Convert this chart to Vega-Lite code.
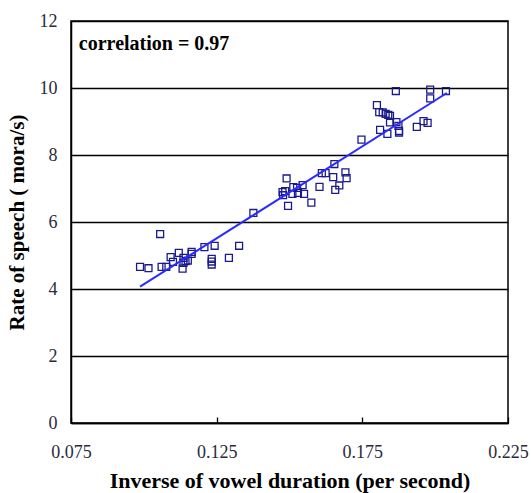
{
  "$schema": "https://vega.github.io/schema/vega-lite/v6.json",
  "autosize": {"type": "none"},
  "padding": {"left": 71, "top": 21, "right": 23, "bottom": 70},
  "width": 437,
  "height": 402,
  "background": "white",
  "config": {
    "view": {"stroke": "black", "strokeWidth": 1.5},
    "font": "Liberation Serif"
  },
  "datasets": {
    "points": [
      {"x": 0.0987, "y": 4.66}, {"x": 0.1016, "y": 4.62}, {"x": 0.1056, "y": 5.64}, {"x": 0.1061, "y": 4.66},
      {"x": 0.1077, "y": 4.66}, {"x": 0.1092, "y": 4.95}, {"x": 0.1100, "y": 4.81}, {"x": 0.1120, "y": 5.08},
      {"x": 0.1133, "y": 4.61}, {"x": 0.1136, "y": 4.93}, {"x": 0.1136, "y": 4.78}, {"x": 0.1143, "y": 4.83},
      {"x": 0.1151, "y": 4.85}, {"x": 0.1164, "y": 5.11}, {"x": 0.1164, "y": 5.05}, {"x": 0.1208, "y": 5.25},
      {"x": 0.1243, "y": 5.29}, {"x": 0.1233, "y": 4.90}, {"x": 0.1233, "y": 4.82}, {"x": 0.1233, "y": 4.73},
      {"x": 0.1292, "y": 4.93}, {"x": 0.1327, "y": 5.29}, {"x": 0.1376, "y": 6.27}, {"x": 0.1490, "y": 7.30},
      {"x": 0.1476, "y": 6.89}, {"x": 0.1485, "y": 6.92}, {"x": 0.1478, "y": 6.80}, {"x": 0.1495, "y": 6.48},
      {"x": 0.1513, "y": 7.04}, {"x": 0.1510, "y": 6.84}, {"x": 0.1529, "y": 6.87}, {"x": 0.1526, "y": 7.02},
      {"x": 0.1545, "y": 7.10}, {"x": 0.1550, "y": 6.84}, {"x": 0.1575, "y": 6.58}, {"x": 0.1603, "y": 7.05},
      {"x": 0.1611, "y": 7.46}, {"x": 0.1624, "y": 7.46}, {"x": 0.1650, "y": 7.34}, {"x": 0.1654, "y": 7.73},
      {"x": 0.1657, "y": 6.96}, {"x": 0.1671, "y": 7.09}, {"x": 0.1692, "y": 7.48}, {"x": 0.1696, "y": 7.31},
      {"x": 0.1747, "y": 8.46}, {"x": 0.1800, "y": 9.49}, {"x": 0.1811, "y": 8.75}, {"x": 0.1808, "y": 9.28},
      {"x": 0.1820, "y": 9.27}, {"x": 0.1830, "y": 9.23}, {"x": 0.1839, "y": 9.20}, {"x": 0.1845, "y": 9.17},
      {"x": 0.1836, "y": 8.63}, {"x": 0.1845, "y": 8.97}, {"x": 0.1865, "y": 9.91}, {"x": 0.1867, "y": 8.98},
      {"x": 0.1874, "y": 8.87}, {"x": 0.1876, "y": 8.72}, {"x": 0.1876, "y": 8.67}, {"x": 0.1937, "y": 8.84},
      {"x": 0.1960, "y": 9.01}, {"x": 0.1974, "y": 8.96}, {"x": 0.1983, "y": 9.95}, {"x": 0.1983, "y": 9.69},
      {"x": 0.2037, "y": 9.91}
    ],
    "fit": [
      {"x": 0.0987, "y": 4.07},
      {"x": 0.2040, "y": 9.85}
    ]
  },
  "layer": [
    {
      "data": {"name": "points"},
      "mark": {"type": "point", "shape": "square", "filled": false, "color": "#1a1a8c", "size": 48, "strokeWidth": 1.3, "opacity": 1},
      "encoding": {
        "x": {
          "field": "x", "type": "quantitative",
          "scale": {"domain": [0.075, 0.225], "nice": false, "zero": false},
          "axis": {
            "values": [0.075, 0.125, 0.175, 0.225],
            "format": ".3f",
            "title": "Inverse of vowel duration (per second)",
            "titleFont": "Liberation Serif", "titleFontSize": 22, "titleFontWeight": "bold", "titleColor": "black",
            "titlePadding": 9,
            "labelFont": "Liberation Serif", "labelFontSize": 18, "labelColor": "#2a2a3a",
            "labelPadding": 26, "labelFlush": false,
            "grid": false,
            "domainColor": "black", "domainWidth": 1.5,
            "ticks": true, "tickSize": -6, "tickColor": "black", "tickWidth": 1.3
          }
        },
        "y": {
          "field": "y", "type": "quantitative",
          "scale": {"domain": [0, 12], "nice": false},
          "axis": {
            "values": [0, 2, 4, 6, 8, 10, 12],
            "title": "Rate of speech ( mora/s)",
            "titleFont": "Liberation Serif", "titleFontSize": 21, "titleFontWeight": "bold", "titleColor": "black",
            "titlePadding": 12,
            "labelFont": "Liberation Serif", "labelFontSize": 18, "labelColor": "#2a2a3a",
            "labelPadding": 14,
            "grid": true, "gridColor": "black", "gridWidth": 1.5, "gridOpacity": 1,
            "domainColor": "black", "domainWidth": 1.5,
            "ticks": false
          }
        }
      }
    },
    {
      "data": {"name": "fit"},
      "mark": {"type": "line", "color": "#2b2bff", "strokeWidth": 2},
      "encoding": {
        "x": {"field": "x", "type": "quantitative"},
        "y": {"field": "y", "type": "quantitative"}
      }
    },
    {
      "data": {"values": [{}]},
      "mark": {"type": "text", "text": "correlation = 0.97", "align": "left", "baseline": "alphabetic", "font": "Liberation Serif", "fontSize": 20, "fontWeight": "bold", "color": "black"},
      "encoding": {
        "x": {"datum": 0.0777, "type": "quantitative"},
        "y": {"datum": 11.12, "type": "quantitative"}
      }
    }
  ]
}
